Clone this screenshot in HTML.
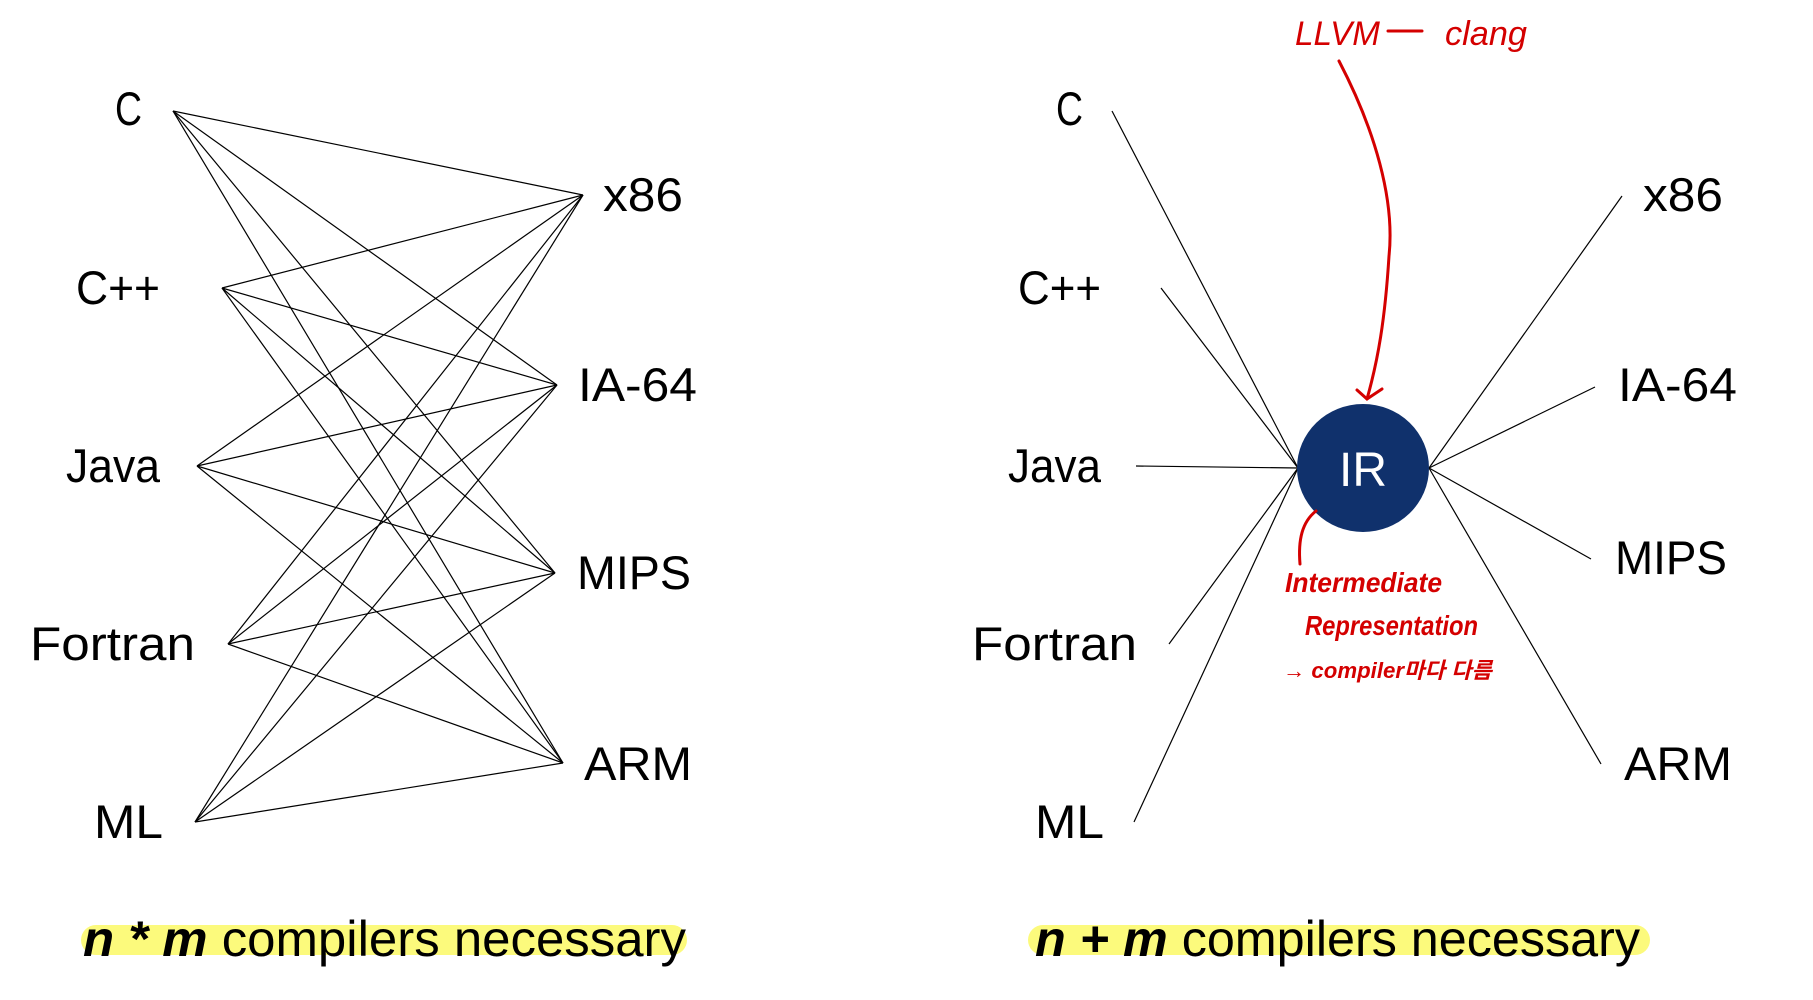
<!DOCTYPE html>
<html><head><meta charset="utf-8"><style>
html,body{margin:0;padding:0;background:#fff;}
svg{display:block;}
.l{font-family:"Liberation Sans",sans-serif;font-size:47px;fill:#000;}
.b{font-family:"Liberation Sans",sans-serif;font-size:50px;fill:#000;}
.r{font-family:"Liberation Sans","Noto Sans CJK KR",sans-serif;fill:#d40000;font-style:italic;}
</style></head><body>
<svg width="1813" height="1000" viewBox="0 0 1813 1000" xmlns="http://www.w3.org/2000/svg">
<g stroke="#000" stroke-width="1.2" fill="none">
<line x1="173" y1="111" x2="583" y2="195"/><line x1="173" y1="111" x2="557" y2="385"/><line x1="173" y1="111" x2="555" y2="573"/><line x1="173" y1="111" x2="563" y2="763"/>
<line x1="222" y1="288" x2="583" y2="195"/><line x1="222" y1="288" x2="557" y2="385"/><line x1="222" y1="288" x2="555" y2="573"/><line x1="222" y1="288" x2="563" y2="763"/>
<line x1="197" y1="466" x2="583" y2="195"/><line x1="197" y1="466" x2="557" y2="385"/><line x1="197" y1="466" x2="555" y2="573"/><line x1="197" y1="466" x2="563" y2="763"/>
<line x1="228" y1="644" x2="583" y2="195"/><line x1="228" y1="644" x2="557" y2="385"/><line x1="228" y1="644" x2="555" y2="573"/><line x1="228" y1="644" x2="563" y2="763"/>
<line x1="195" y1="822" x2="583" y2="195"/><line x1="195" y1="822" x2="557" y2="385"/><line x1="195" y1="822" x2="555" y2="573"/><line x1="195" y1="822" x2="563" y2="763"/>
<line x1="1112" y1="111" x2="1298" y2="468"/><line x1="1161" y1="288" x2="1298" y2="468"/><line x1="1136" y1="466" x2="1298" y2="468"/><line x1="1169" y1="644" x2="1298" y2="468"/><line x1="1134" y1="822" x2="1298" y2="468"/>
<line x1="1429" y1="468" x2="1622" y2="196"/><line x1="1429" y1="468" x2="1595" y2="387"/><line x1="1429" y1="468" x2="1591" y2="559"/><line x1="1429" y1="468" x2="1601" y2="764"/>
</g>
<text class="l" x="115" y="125" textLength="27" lengthAdjust="spacingAndGlyphs">C</text>
<text class="l" x="76" y="304" textLength="84" lengthAdjust="spacingAndGlyphs">C++</text>
<text class="l" x="66" y="482" textLength="94" lengthAdjust="spacingAndGlyphs">Java</text>
<text class="l" x="30" y="660" textLength="165" lengthAdjust="spacingAndGlyphs">Fortran</text>
<text class="l" x="94" y="838" textLength="69" lengthAdjust="spacingAndGlyphs">ML</text>
<text class="l" x="603" y="211" textLength="80" lengthAdjust="spacingAndGlyphs">x86</text>
<text class="l" x="578" y="401" textLength="119" lengthAdjust="spacingAndGlyphs">IA-64</text>
<text class="l" x="577" y="589" textLength="114" lengthAdjust="spacingAndGlyphs">MIPS</text>
<text class="l" x="584" y="780" textLength="108" lengthAdjust="spacingAndGlyphs">ARM</text>
<text class="l" x="1056" y="125" textLength="27" lengthAdjust="spacingAndGlyphs">C</text>
<text class="l" x="1018" y="304" textLength="83" lengthAdjust="spacingAndGlyphs">C++</text>
<text class="l" x="1008" y="482" textLength="93" lengthAdjust="spacingAndGlyphs">Java</text>
<text class="l" x="972" y="660" textLength="165" lengthAdjust="spacingAndGlyphs">Fortran</text>
<text class="l" x="1035" y="838" textLength="69" lengthAdjust="spacingAndGlyphs">ML</text>
<text class="l" x="1643" y="211" textLength="80" lengthAdjust="spacingAndGlyphs">x86</text>
<text class="l" x="1618" y="401" textLength="119" lengthAdjust="spacingAndGlyphs">IA-64</text>
<text class="l" x="1615" y="574" textLength="112" lengthAdjust="spacingAndGlyphs">MIPS</text>
<text class="l" x="1624" y="780" textLength="108" lengthAdjust="spacingAndGlyphs">ARM</text>
<ellipse cx="1363" cy="468" rx="66" ry="64" fill="#10316c"/>
<text x="1363" y="486" text-anchor="middle" font-family="Liberation Sans,sans-serif" font-size="48" fill="#fff">IR</text>
<rect x="81" y="925" width="606" height="30" rx="15" fill="#fcfa7c"/>
<rect x="1028" y="925" width="622" height="30" rx="15" fill="#fcfa7c"/>
<text class="b" x="83" y="956" textLength="603" lengthAdjust="spacingAndGlyphs"><tspan font-weight="bold" font-style="italic">n * m</tspan> compilers necessary</text>
<text class="b" x="1035" y="956" textLength="605" lengthAdjust="spacingAndGlyphs"><tspan font-weight="bold" font-style="italic">n + m</tspan> compilers necessary</text>
<g stroke="#d40000" stroke-width="3" fill="none" stroke-linecap="round">
<path d="M1339 61 C1375 130 1395 200 1389 256 C1385 320 1378 360 1367 399"/>
<path d="M1357 390 L1367 399 L1382 389"/>
<path d="M1316 511 C1302 522 1298 540 1300 564"/>
<line x1="1388" y1="31" x2="1422" y2="31"/>
</g>
<text class="r" x="1295" y="45" font-size="34" textLength="85" lengthAdjust="spacingAndGlyphs">LLVM</text>
<text class="r" x="1445" y="45" font-size="34" textLength="82" lengthAdjust="spacingAndGlyphs">clang</text>
<text class="r" x="1285" y="592" font-size="28" font-weight="bold" textLength="157" lengthAdjust="spacingAndGlyphs">Intermediate</text>
<text class="r" x="1305" y="635" font-size="28" font-weight="bold" textLength="173" lengthAdjust="spacingAndGlyphs">Representation</text>
<text class="r" x="1283" y="678" font-size="22" font-weight="bold" textLength="209" lengthAdjust="spacingAndGlyphs">→ compiler마다 다름</text>
</svg>
</body></html>
